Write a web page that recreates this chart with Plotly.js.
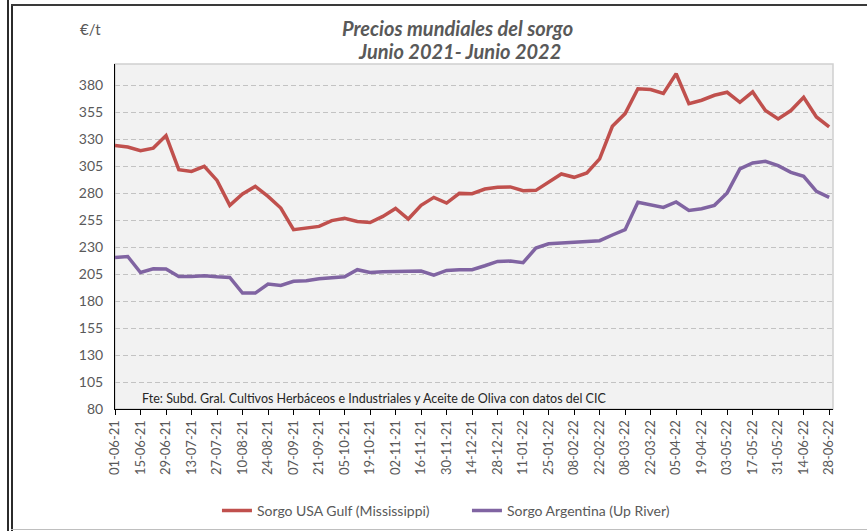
<!DOCTYPE html>
<html>
<head>
<meta charset="utf-8">
<script src="https://cdn.plot.ly/plotly-3.0.1.min.js"></script>
<style>
  html, body { margin: 0; padding: 0; background: #fff; }
  #wrap { position: relative; width: 867px; height: 531px; overflow: hidden; }
  #chart { position: absolute; left: 0; top: 0; width: 867px; height: 531px; }
  .ln { position: absolute; }
</style>
</head>
<body>
<div id="wrap">
  <div id="chart"></div>
  <div class="ln" style="left:7px;top:0;width:2px;height:531px;background:#2b2b2b;"></div>
  <div class="ln" style="left:11px;top:4px;width:2px;height:527px;background:#2b2b2b;"></div>
  <div class="ln" style="left:11px;top:4px;width:856px;height:2px;background:#3a3a3a;"></div>
  <div class="ln" style="left:11px;top:529px;width:856px;height:1px;background:#bfbfbf;"></div>
</div>
<script>
const dates = ["01-06-21","08-06-21","15-06-21","22-06-21","29-06-21","06-07-21","13-07-21","20-07-21","27-07-21",
  "03-08-21","10-08-21","17-08-21","24-08-21","31-08-21","07-09-21","14-09-21","21-09-21","28-09-21",
  "05-10-21","12-10-21","19-10-21","26-10-21","02-11-21","09-11-21","16-11-21","23-11-21","30-11-21",
  "07-12-21","14-12-21","21-12-21","28-12-21","04-01-22","11-01-22","18-01-22","25-01-22",
  "01-02-22","08-02-22","15-02-22","22-02-22","01-03-22","08-03-22","15-03-22","22-03-22","29-03-22",
  "05-04-22","12-04-22","19-04-22","26-04-22","03-05-22","10-05-22","17-05-22","24-05-22","31-05-22",
  "07-06-22","14-06-22","21-06-22","28-06-22"];

const usaGulf = [324.3,323,319.6,322,333.6,302,300.4,305,292,268.9,
  279.4,286.5,277.2,266.4,246.3,248,249.4,254.7,256.8,254,
  253,258.6,266,256.2,268.9,276.3,271,280,279.7,284,
  285.6,286,282.5,282.8,290.2,298,294.9,298.9,312,342.2,
  354,377,376.3,372.6,390.9,363.3,366.4,371,373.8,364.5,
  374.1,356.8,349,356.8,369.2,350.9,341.6];

const argentina = [220.6,221.5,206.6,210,209.8,202.9,202.9,203.6,202.6,202,
  187.5,187.5,195.9,194.6,198.4,199,200.8,201.5,202.7,209.2,
  206.6,207.3,207.3,207.3,207.9,204.1,208.5,209.2,209.2,212.9,
  216.9,217.2,215.7,229.3,233.3,234,234.9,235.8,236.1,241.4,
  246.3,271.7,269.5,267,272,264.2,265.8,268.9,280.4,302.7,
  308.2,309.7,305.7,299.5,295.8,281.9,276.3];

const seriesNames = ["Sorgo USA Gulf (Mississippi)", "Sorgo Argentina (Up River)"];
const yTicks = [80,105,130,155,180,205,230,255,280,305,330,355,380];
const tickDates = dates.filter((d, i) => i % 2 === 0);
const titleLines = ["Precios mundiales del sorgo", "Junio 2021- Junio 2022"];
const unitLabel = "€/t";
const sourceNote = "Fte: Subd. Gral. Cultivos Herbáceos e Industriales y Aceite de Oliva con datos del CIC";

const FONT = "Lato, 'Open Sans', sans-serif";
const GREY = "#595959";

const xIdx = dates.map((d, i) => i);

const traces = [
  { x: xIdx, y: usaGulf, name: seriesNames[0], type: "scatter", mode: "lines",
    line: { color: "#C0504D", width: 3.5 } },
  { x: xIdx, y: argentina, name: seriesNames[1], type: "scatter", mode: "lines",
    line: { color: "#8064A2", width: 3.5 } }
];

const layout = {
  width: 867, height: 531,
  margin: { l: 115, r: 33.5, t: 64, b: 122, autoexpand: false },
  paper_bgcolor: "#ffffff",
  plot_bgcolor: "#f2f2f2",
  font: { family: FONT, color: GREY, size: 13 },
  showlegend: true,
  legend: { orientation: "h", x: 0.142, xanchor: "left", y: -0.249, yanchor: "top",
    entrywidth: 205, entrywidthmode: "pixels",
    font: { family: FONT, size: 14, color: GREY }, bgcolor: "rgba(0,0,0,0)", traceorder: "normal" },
  xaxis: {
    type: "linear", range: [0, 56.3],
    tickmode: "array",
    tickvals: xIdx.filter(i => i % 2 === 0),
    ticktext: tickDates,
    tickangle: -90,
    tickfont: { family: FONT, size: 13, color: GREY },
    ticks: "outside", ticklen: 5, tickcolor: "#000", tickwidth: 1,
    showline: true, linecolor: "#000", linewidth: 1,
    showgrid: false, zeroline: false, fixedrange: true
  },
  yaxis: {
    range: [80, 400],
    tickmode: "array", tickvals: yTicks,
    tickfont: { family: FONT, size: 14, color: GREY },
    ticks: "", ticklabelstandoff: 8,
    showline: true, linecolor: "#000", linewidth: 1,
    showgrid: true, gridcolor: "#c3c3c3", gridwidth: 1, griddash: "5px,3px",
    zeroline: false, fixedrange: true
  },
  shapes: [
    { type: "rect", xref: "paper", yref: "paper", x0: 0, x1: 1, y0: 0, y1: 1,
      line: { color: "#d0d0d0", width: 1.5 }, layer: "below" }
  ],
  annotations: [
    { text: "<b><i>" + titleLines[0] + "</i></b>", xref: "paper", yref: "paper",
      x: (458 - 115) / 718.5, xanchor: "center", y: 1 + (64 - 28) / 345, yanchor: "middle",
      showarrow: false, font: { family: FONT, size: 20, color: GREY } },
    { text: "<b><i>" + titleLines[1] + "</i></b>", xref: "paper", yref: "paper",
      x: (460 - 115) / 718.5, xanchor: "center", y: 1 + (64 - 51) / 345, yanchor: "middle",
      showarrow: false, font: { family: FONT, size: 20, color: GREY } },
    { text: unitLabel, xref: "paper", yref: "paper", x: (78 - 115) / 718.5, xanchor: "left",
      y: 1 + (64 - 29) / 345, yanchor: "middle", showarrow: false,
      font: { family: FONT, size: 15, color: GREY } },
    { text: sourceNote,
      xref: "paper", yref: "paper", x: (140 - 115) / 718.5, xanchor: "left",
      y: (409 - 398) / 345, yanchor: "middle", showarrow: false,
      font: { family: FONT, size: 12.5, color: "#262626" } }
  ]
};

Plotly.newPlot("chart", traces, layout, { displayModeBar: false, staticPlot: true });
</script>
</body>
</html>
